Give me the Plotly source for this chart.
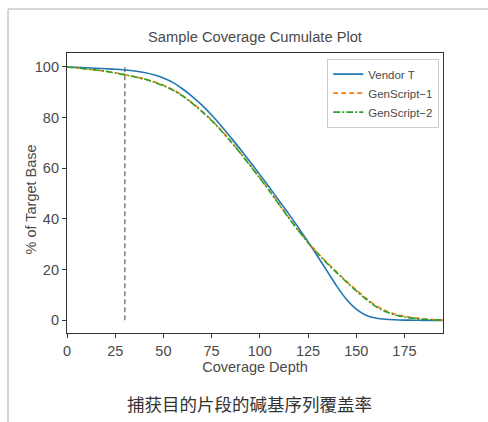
import plotly.graph_objects as go

depth = list(range(0, 200, 5))
vendor_t = [100, 99.85, 99.7, 99.5, 99.3, 99.1, 98.8, 98.4, 97.8, 96.9, 95.6, 93.8,
            91.3, 88.3, 84.9, 81.0, 76.7, 72.1, 67.4, 62.5, 57.5, 52.4, 47.2, 42.0,
            36.6, 31.0, 25.2, 19.3, 13.4, 8.2, 4.4, 2.0, 0.9, 0.4, 0.2, 0.1, 0.05, 0, 0, 0]
genscript_1 = [100, 99.6, 99.2, 98.8, 98.3, 97.7, 97.0, 96.2, 95.3, 94.2, 92.8, 91.0,
               88.7, 85.8, 82.6, 79.0, 75.0, 70.7, 66.0, 61.2, 56.3, 51.2, 45.9, 40.6,
               35.5, 30.8, 26.6, 22.7, 19.0, 15.4, 12.0, 8.8, 5.9, 3.9, 2.5, 1.6, 1.0, 0.6, 0.3, 0.1]
genscript_2 = [100, 99.6, 99.2, 98.8, 98.3, 97.6, 96.9, 96.1, 95.2, 94.0, 92.6, 90.8,
               88.5, 85.6, 82.4, 78.8, 74.8, 70.5, 65.9, 61.0, 56.1, 51.0, 45.7, 40.4,
               35.4, 30.6, 26.4, 22.4, 18.7, 15.1, 11.6, 8.4, 5.5, 3.5, 2.2, 1.3, 0.8, 0.4, 0.2, 0.1]
cutoff_depth = 30
x_ticks = [0, 25, 50, 75, 100, 125, 150, 175]
y_ticks = [0, 20, 40, 60, 80, 100]

FONT = "Liberation Sans, Arial, Noto Sans CJK SC"
TXT = "#4a4a4a"

fig = go.Figure()
fig.add_trace(go.Scatter(x=[cutoff_depth, cutoff_depth], y=[0, 100], mode="lines",
                         line=dict(color="#7f7f7f", width=1.5, dash="5px,3px"),
                         showlegend=False, hoverinfo="skip"))
fig.add_trace(go.Scatter(x=depth, y=vendor_t, mode="lines", name="Vendor T",
                         line=dict(color="#1f77b4", width=1.6, shape="spline", smoothing=0.8)))
fig.add_trace(go.Scatter(x=depth, y=genscript_1, mode="lines", name="GenScript\u22121",
                         line=dict(color="#ff7f0e", width=1.6, dash="5px,3px", shape="spline", smoothing=0.8)))
fig.add_trace(go.Scatter(x=depth, y=genscript_2, mode="lines", name="GenScript\u22122",
                         line=dict(color="#2ca02c", width=1.6, dash="7px,2px,2px,2px", shape="spline", smoothing=0.8)))

axis_common = dict(showgrid=False, zeroline=False, showline=True, linecolor="#333333",
                   linewidth=1.2, mirror=True, ticks="outside", ticklen=4, tickwidth=1,
                   tickcolor="#333333", tickfont=dict(size=14.5, color=TXT, family=FONT))

fig.update_xaxes(range=[0, 195], tickvals=x_ticks,
                 title=dict(text="Coverage Depth", font=dict(size=14.5, color=TXT, family=FONT), standoff=4),
                 **axis_common)
fig.update_yaxes(range=[-5, 105.5], tickvals=y_ticks, **axis_common)

fig.update_layout(
    width=488, height=422,
    margin=dict(l=67, r=45, t=53, b=89),
    paper_bgcolor="white", plot_bgcolor="white",
    font=dict(family=FONT),
    title=dict(text="Sample Coverage Cumulate Plot", x=0.5, xref="paper", xanchor="center",
               y=1 - 37 / 422, yanchor="middle",
               font=dict(size=14.7, color=TXT, family=FONT)),
    legend=dict(x=0.99, y=0.98, xanchor="right", yanchor="top",
                bgcolor="rgba(255,255,255,0.9)", bordercolor="#cccccc", borderwidth=1,
                font=dict(size=11.5, color=TXT, family=FONT),
                tracegroupgap=0, itemwidth=30),
    annotations=[
        dict(text="% of Target Base", xref="paper", yref="paper",
             x=(30.5 - 67) / 376, y=(333 - 200) / 280, xanchor="center", yanchor="middle",
             textangle=-90, showarrow=False, font=dict(size=14.5, color=TXT, family=FONT)),
        dict(text="捕获目的片段的碱基序列覆盖率", xref="paper", yref="paper",
             x=(249 - 67) / 376, y=(333 - 403) / 280, xanchor="center", yanchor="middle",
             showarrow=False, font=dict(size=17.5, color="#333333", family="Noto Sans CJK SC")),
    ],
    shapes=[
        dict(type="line", xref="paper", yref="paper", x0=(8 - 67) / 376, x1=(490 - 67) / 376,
             y0=(333 - 9) / 280, y1=(333 - 9) / 280, line=dict(color="#c8c8c8", width=1.5)),
        dict(type="line", xref="paper", yref="paper", x0=(8 - 67) / 376, x1=(8 - 67) / 376,
             y0=(333 - 9) / 280, y1=(333 - 424) / 280, line=dict(color="#c8c8c8", width=1.5)),
    ],
)

fig.write_html("out.html")
